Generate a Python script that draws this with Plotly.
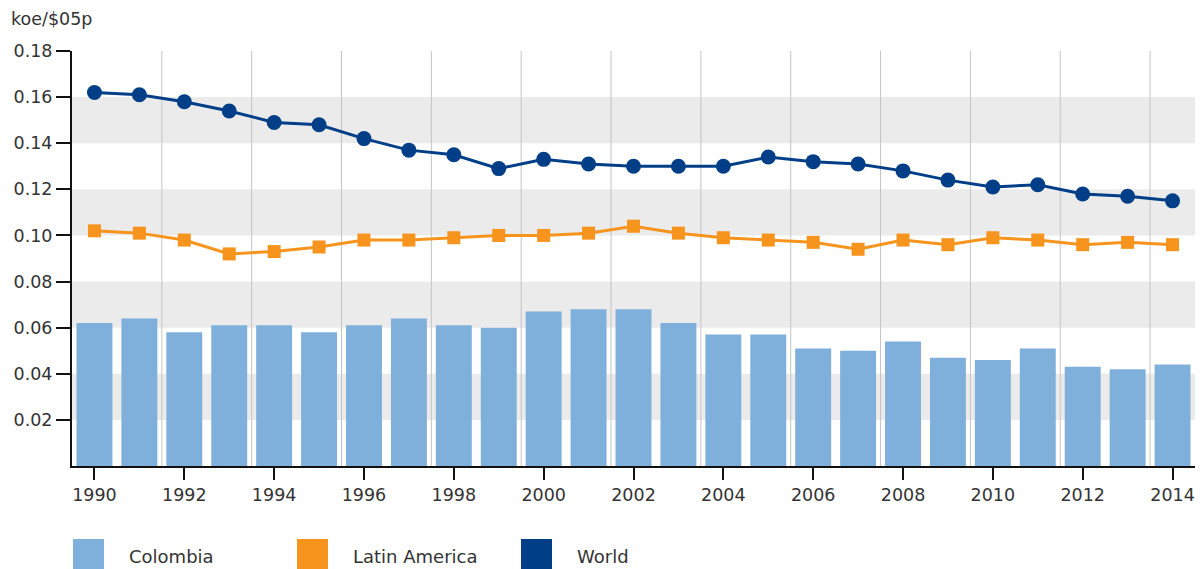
import plotly.graph_objects as go

# Energy intensity (koe per $2005 ppp), 1990-2014
years = list(range(1990, 2015))
colombia = [0.062, 0.064, 0.058, 0.061, 0.061, 0.058, 0.061, 0.064, 0.061, 0.060,
            0.067, 0.068, 0.068, 0.062, 0.057, 0.057, 0.051, 0.050, 0.054, 0.047,
            0.046, 0.051, 0.043, 0.042, 0.044]
latin_america = [0.102, 0.101, 0.098, 0.092, 0.093, 0.095, 0.098, 0.098, 0.099, 0.100,
                 0.100, 0.101, 0.104, 0.101, 0.099, 0.098, 0.097, 0.094, 0.098, 0.096,
                 0.099, 0.098, 0.096, 0.097, 0.096]
world = [0.162, 0.161, 0.158, 0.154, 0.149, 0.148, 0.142, 0.137, 0.135, 0.129,
         0.133, 0.131, 0.130, 0.130, 0.130, 0.134, 0.132, 0.131, 0.128, 0.124,
         0.121, 0.122, 0.118, 0.117, 0.115]
series_names = ["Colombia", "Latin America", "World"]
y_ticks = [0.02, 0.04, 0.06, 0.08, 0.10, 0.12, 0.14, 0.16, 0.18]
x_ticks = list(range(1990, 2015, 2))
unit_label = "koe/$05p"

C_COL = "#7fb0dc"
C_LAT = "#f7941d"
C_WLD = "#003f87"
TEXT = "#333333"
FONT = "DejaVu Sans, Verdana, sans-serif"

fig = go.Figure()
fig.add_trace(go.Bar(x=years, y=colombia, name=series_names[0],
                     marker=dict(color=C_COL, line=dict(width=0)),
                     showlegend=False))
fig.add_trace(go.Scatter(x=years, y=latin_america, name=series_names[1], mode="lines+markers",
                         line=dict(color=C_LAT, width=3),
                         marker=dict(symbol="square", size=13, color=C_LAT),
                         showlegend=False))
fig.add_trace(go.Scatter(x=years, y=world, name=series_names[2], mode="lines+markers",
                         line=dict(color=C_WLD, width=3),
                         marker=dict(symbol="circle", size=15, color=C_WLD),
                         showlegend=False))

shapes = []
# alternating horizontal bands
for lo in [0.02, 0.06, 0.10, 0.14]:
    shapes.append(dict(type="rect", xref="paper", yref="y", x0=0, x1=1, y0=lo, y1=lo + 0.02,
                       fillcolor="#ebebeb", line=dict(width=0), layer="below"))
# vertical separators between year pairs
for yr in years[1:-1:2]:
    shapes.append(dict(type="line", xref="x", yref="paper", x0=yr + 0.5, x1=yr + 0.5,
                       y0=0, y1=1, line=dict(color="#c4c4c4", width=1), layer="below"))

# legend drawn as large colour swatches with labels
plot_w = 1204 - 72 - 9
plot_h = 466 - 51
def px_x(p):
    return (p - 72) / plot_w
def px_y(p):
    return (466 - p) / plot_h

annotations = []
for name, color, left in zip(series_names, [C_COL, C_LAT, C_WLD], [73, 297, 521]):
    shapes.append(dict(type="rect", xref="paper", yref="paper",
                       x0=px_x(left), x1=px_x(left + 31), y0=px_y(539), y1=px_y(572),
                       fillcolor=color, line=dict(width=0)))
    annotations.append(dict(text=name, xref="paper", yref="paper", x=px_x(left + 54),
                            y=px_y(556), xanchor="left", yanchor="middle", showarrow=False,
                            font=dict(family=FONT, size=18, color=TEXT)))

annotations.append(dict(text=unit_label, xref="paper", yref="paper", x=px_x(9), y=px_y(19),
                        xanchor="left", yanchor="middle", showarrow=False,
                        font=dict(family=FONT, size=17.5, color=TEXT)))

fig.update_layout(
    width=1204, height=569,
    margin=dict(l=72, r=9, t=51, b=103),
    paper_bgcolor="white", plot_bgcolor="rgba(0,0,0,0)",
    bargap=0.2,
    font=dict(family=FONT, size=17.5, color=TEXT),
    shapes=shapes, annotations=annotations,
    xaxis=dict(range=[1989.5, 2014.5], tickvals=x_ticks, ticktext=[str(t) for t in x_ticks],
               showgrid=False, zeroline=False, showline=True, linecolor="#111111", linewidth=2,
               ticks="outside", ticklen=12, tickwidth=2, tickcolor="#111111",
               tickfont=dict(family=FONT, size=17.5, color=TEXT)),
    yaxis=dict(range=[0, 0.18], tickvals=y_ticks, ticktext=[f"{v:.2f}" for v in y_ticks],
               showgrid=False, zeroline=False, showline=True, linecolor="#111111", linewidth=2,
               ticks="outside", ticklen=14, tickwidth=2, tickcolor="#111111",
               tickfont=dict(family=FONT, size=17.5, color=TEXT)),
)

fig.write_html("out.html")
